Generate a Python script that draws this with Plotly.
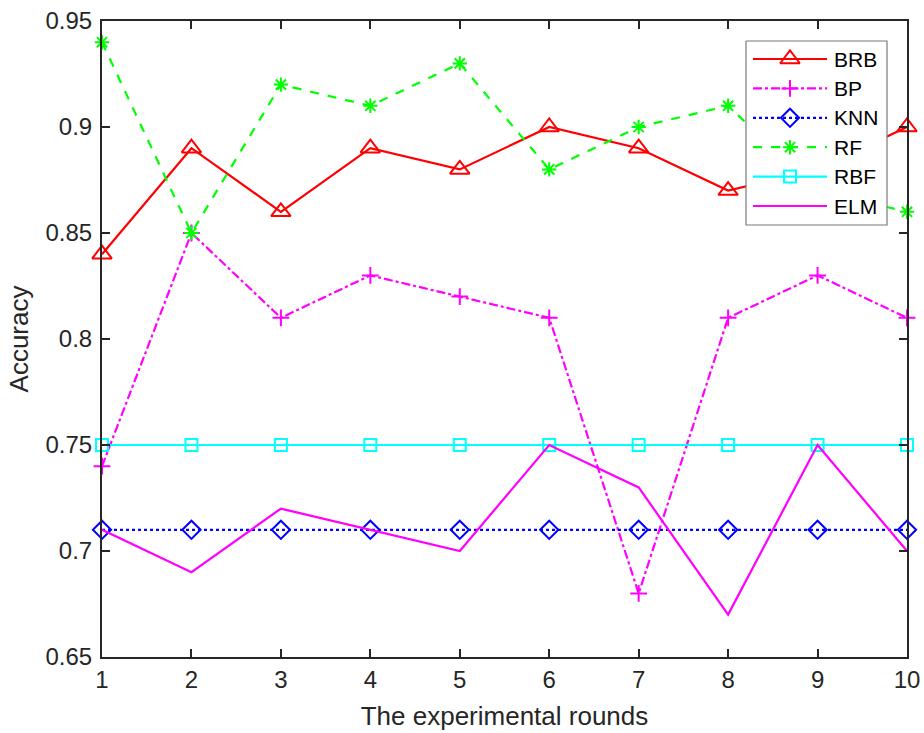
import plotly.graph_objects as go

rounds = [1, 2, 3, 4, 5, 6, 7, 8, 9, 10]
brb = [0.84, 0.89, 0.86, 0.89, 0.88, 0.90, 0.89, 0.87, 0.88, 0.90]
bp = [0.74, 0.85, 0.81, 0.83, 0.82, 0.81, 0.68, 0.81, 0.83, 0.81]
knn = [0.71, 0.71, 0.71, 0.71, 0.71, 0.71, 0.71, 0.71, 0.71, 0.71]
rf = [0.94, 0.85, 0.92, 0.91, 0.93, 0.88, 0.90, 0.91, 0.87, 0.86]
rbf = [0.75, 0.75, 0.75, 0.75, 0.75, 0.75, 0.75, 0.75, 0.75, 0.75]
elm = [0.71, 0.69, 0.72, 0.71, 0.70, 0.75, 0.73, 0.67, 0.75, 0.70]

series_names = ["BRB", "BP", "KNN", "RF", "RBF", "ELM"]

y_ticks = [0.65, 0.7, 0.75, 0.8, 0.85, 0.9, 0.95]
y_tick_text = ["0.65", "0.7", "0.75", "0.8", "0.85", "0.9", "0.95"]

FONT = "Liberation Sans, Arial, sans-serif"
TXT = "#262626"

# figure geometry (px)
W, H = 924, 733
ML, MR, MT, MB = 102, 17, 21, 76
PW, PH = W - ML - MR, H - MT - MB

# legend box geometry (px in page coords)
LX0, LX1, LY0, LY1 = 746, 887, 41, 225
ROW0, ROWSTEP = 59, 29.4
SAMPLE_X0, SAMPLE_X1, TEXT_X = 753, 827, 832

styles = {
    "BRB": ("#FF0000", "solid", "triangle-up-open", 17),
    "BP": ("#FF00FF", "dashdot", "cross-thin-open", 12),
    "KNN": ("#0000FF", "dot", "diamond-open", 14),
    "RF": ("#00FF00", "dash", "asterisk-open", 12),
    "RBF": ("#00FFFF", "solid", "square-open", 12),
    "ELM": ("#FF00FF", "solid", None, 0),
}
data = {"BRB": brb, "BP": bp, "KNN": knn, "RF": rf, "RBF": rbf, "ELM": elm}

fig = go.Figure()

for name in series_names:
    color, dash, sym, size = styles[name]
    kw = dict(x=rounds, y=data[name], name=name, showlegend=False,
              line=dict(color=color, width=2.2, dash=dash), cliponaxis=False)
    if sym:
        kw.update(mode="lines+markers",
                  marker=dict(symbol=sym, size=size, color=color,
                              line=dict(color=color, width=2)))
    else:
        kw.update(mode="lines")
    fig.add_trace(go.Scatter(**kw))

# ---- legend drawn on overlay axes whose ranges are page pixels ----
fig.add_trace(go.Scatter(
    x=[LX0, LX1, LX1, LX0, LX0], y=[LY0, LY0, LY1, LY1, LY0],
    xaxis="x2", yaxis="y2", mode="lines", fill="toself",
    fillcolor="white", line=dict(color="#7a7a7a", width=1.2),
    showlegend=False, hoverinfo="skip", cliponaxis=False,
))
for i, name in enumerate(series_names):
    color, dash, sym, size = styles[name]
    yy = ROW0 + i * ROWSTEP
    fig.add_trace(go.Scatter(
        x=[SAMPLE_X0, SAMPLE_X1], y=[yy, yy], xaxis="x2", yaxis="y2",
        mode="lines", line=dict(color=color, width=2.2, dash=dash),
        showlegend=False, hoverinfo="skip", cliponaxis=False,
    ))
    if sym:
        fig.add_trace(go.Scatter(
            x=[(SAMPLE_X0 + SAMPLE_X1) / 2], y=[yy], xaxis="x2", yaxis="y2",
            mode="markers",
            marker=dict(symbol=sym, size=size, color=color,
                        line=dict(color=color, width=2)),
            showlegend=False, hoverinfo="skip", cliponaxis=False,
        ))
    fig.add_annotation(
        x=TEXT_X, y=yy, xref="x2", yref="y2", text=name, showarrow=False,
        xanchor="left", yanchor="middle",
        font=dict(family=FONT, size=21, color="black"),
    )

fig.update_layout(
    width=W, height=H,
    margin=dict(l=ML, r=MR, t=MT, b=MB, pad=0),
    paper_bgcolor="white", plot_bgcolor="white",
    font=dict(family=FONT, size=22, color=TXT),
    showlegend=False,
    xaxis=dict(
        range=[1, 10], tickvals=rounds, ticktext=[str(r) for r in rounds],
        ticks="inside", ticklen=8, tickwidth=2, tickcolor=TXT,
        showline=True, linecolor=TXT, linewidth=2, mirror="ticks",
        showgrid=False, zeroline=False, automargin=False,
        tickfont=dict(family=FONT, size=24, color=TXT),
        title=dict(text="The experimental rounds",
                   font=dict(family=FONT, size=26, color=TXT), standoff=15),
    ),
    yaxis=dict(
        range=[0.65, 0.95], tickvals=y_ticks, ticktext=y_tick_text,
        ticks="inside", ticklen=8, tickwidth=2, tickcolor=TXT,
        showline=True, linecolor=TXT, linewidth=2, mirror="ticks",
        showgrid=False, zeroline=False, automargin=False,
        tickfont=dict(family=FONT, size=24, color=TXT),
        ticklabelstandoff=3,
        title=dict(text="Accuracy", font=dict(family=FONT, size=26, color=TXT), standoff=9),
    ),
    xaxis2=dict(overlaying="x", range=[ML, W - MR], visible=False,
                anchor="y2", fixedrange=True, automargin=False),
    yaxis2=dict(overlaying="y", range=[MT + PH, MT], visible=False,
                anchor="x2", fixedrange=True, automargin=False),
)

fig.write_html("out.html")
